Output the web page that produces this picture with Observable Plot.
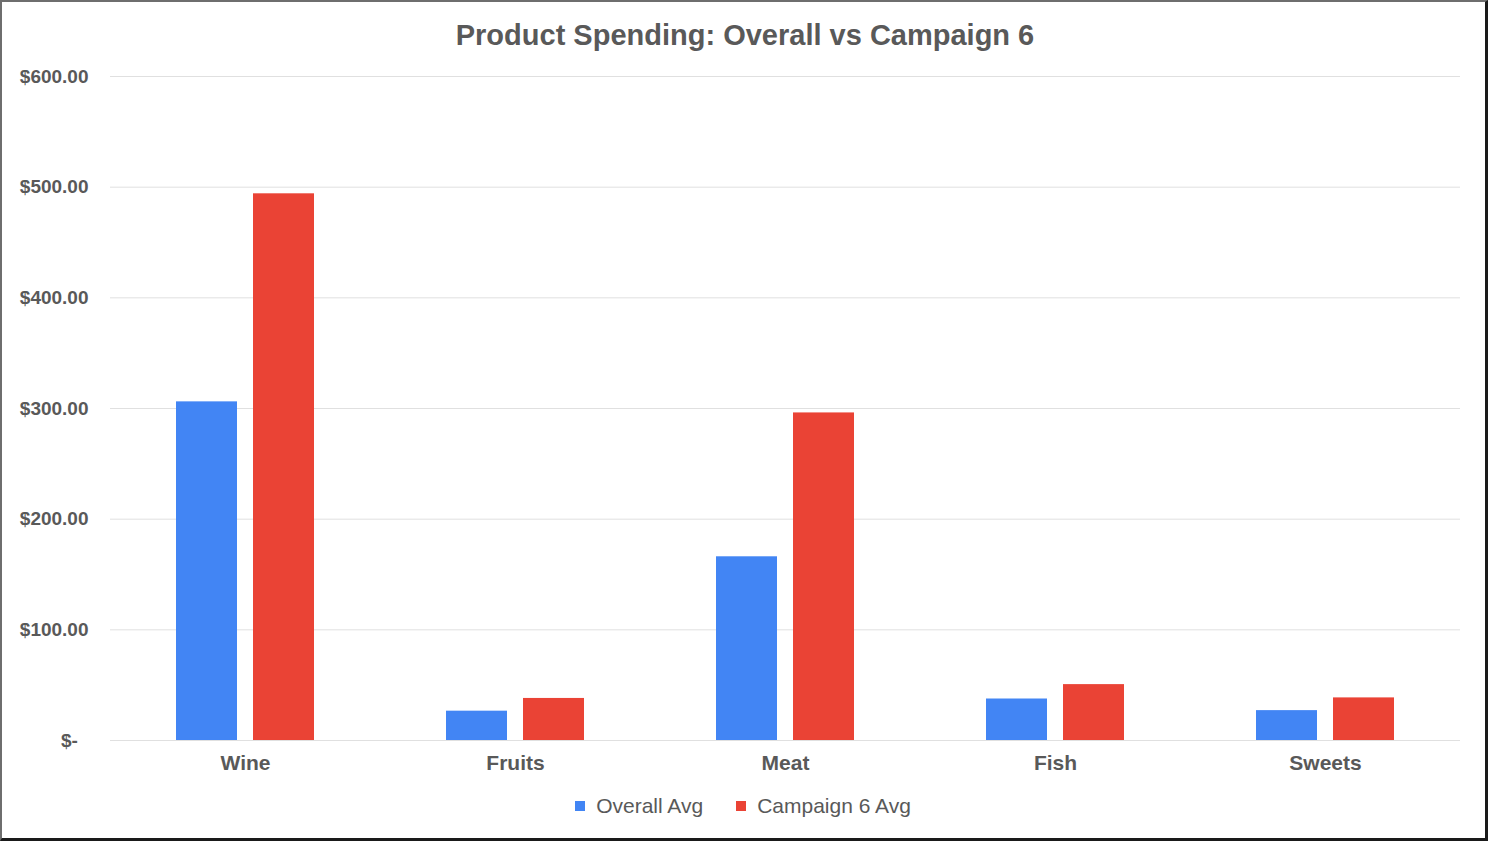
<!DOCTYPE html>
<html>
<head>
<meta charset="utf-8">
<script src="https://cdn.jsdelivr.net/npm/d3@7"></script>
<script src="https://cdn.jsdelivr.net/npm/@observablehq/plot@0.6"></script>
<style>
  html, body { margin: 0; padding: 0; background: #fff; }
  #wrap { position: relative; width: 1488px; height: 841px; overflow: hidden; font-family: "Liberation Sans", Arial, sans-serif; }
  #frame { position: absolute; inset: 0; box-sizing: border-box; pointer-events: none;
           border-top: 2px solid #6e6e6e; border-left: 2px solid #6e6e6e;
           border-right: 3px solid #1a1a1a; border-bottom: 3px solid #1a1a1a; }
  #title { height: 60px; box-sizing: border-box; padding-top: 20px; line-height: 30px; text-align: center;
           font-size: 29px; font-weight: bold; color: #595959; padding-left: 2px; }
  #chart svg { display: block; }
  #legend { height: 40px; line-height: 40px; display: flex; justify-content: center; align-items: center;
            font-size: 21px; color: #595959; padding-right: 2px; }
  .item { display: flex; align-items: center; }
  .swatch { width: 10px; height: 10px; display: inline-block; margin-right: 11px; }
</style>
</head>
<body>
<div id="wrap">
  <div id="title">Product Spending: Overall vs Campaign 6</div>
  <div id="chart"></div>
  <div id="legend"></div>
  <div id="frame"></div>
</div>
<script>
// Average spending per product category
const categories = ["Wine", "Fruits", "Meat", "Fish", "Sweets"];
const overallAvg = [306, 26.5, 166, 37.5, 27];
const campaign6Avg = [494, 38, 296, 50.5, 38.5];

const seriesNames = ["Overall Avg", "Campaign 6 Avg"];
const seriesColors = ["#4285F4", "#EA4335"];
const yTicks = [0, 100, 200, 300, 400, 500, 600];

const rows = categories.flatMap((c, i) => [
  {category: c, series: seriesNames[0], value: overallAvg[i]},
  {category: c, series: seriesNames[1], value: campaign6Avg[i]}
]);

const money = v => v === 0 ? "$-\u2007" : "$" + d3.format(",.2f")(v);

const chart = Plot.plot({
  width: 1488,
  height: 726,
  marginLeft: 109,
  marginRight: 27,
  marginTop: 16,
  marginBottom: 46,
  style: {fontFamily: "'Liberation Sans', Arial, sans-serif", color: "#595959", background: "#fff"},
  fx: {domain: categories, padding: 0, label: null},
  x: {domain: seriesNames, paddingInner: 0.208, paddingOuter: 0.857, axis: null},
  y: {domain: [0, 600], label: null},
  color: {domain: seriesNames, range: seriesColors},
  marks: [
    Plot.gridY(yTicks, {stroke: "#e0e0e0", strokeOpacity: 1, strokeWidth: 1}),
    Plot.barY(rows, {fx: "category", x: "series", y: "value", fill: "series"}),
    Plot.axisY(yTicks, {
      tickFormat: money, tickSize: 0, tickPadding: 22,
      fontSize: 19, fontWeight: "bold", fill: "#595959", label: null
    }),
    Plot.axisFx({
      anchor: "bottom", tickSize: 0, tickPadding: 15,
      fontSize: 21, fontWeight: "bold", fill: "#595959", label: null
    })
  ]
});
document.getElementById("chart").appendChild(chart);

// Legend beneath the plot
const legend = d3.select("#legend");
seriesNames.forEach((name, i) => {
  const item = legend.append("div").attr("class", "item")
    .style("margin-left", i ? "33px" : "0px");
  item.append("span").attr("class", "swatch").style("background", seriesColors[i]);
  item.append("span").text(name);
});
</script>
</body>
</html>
